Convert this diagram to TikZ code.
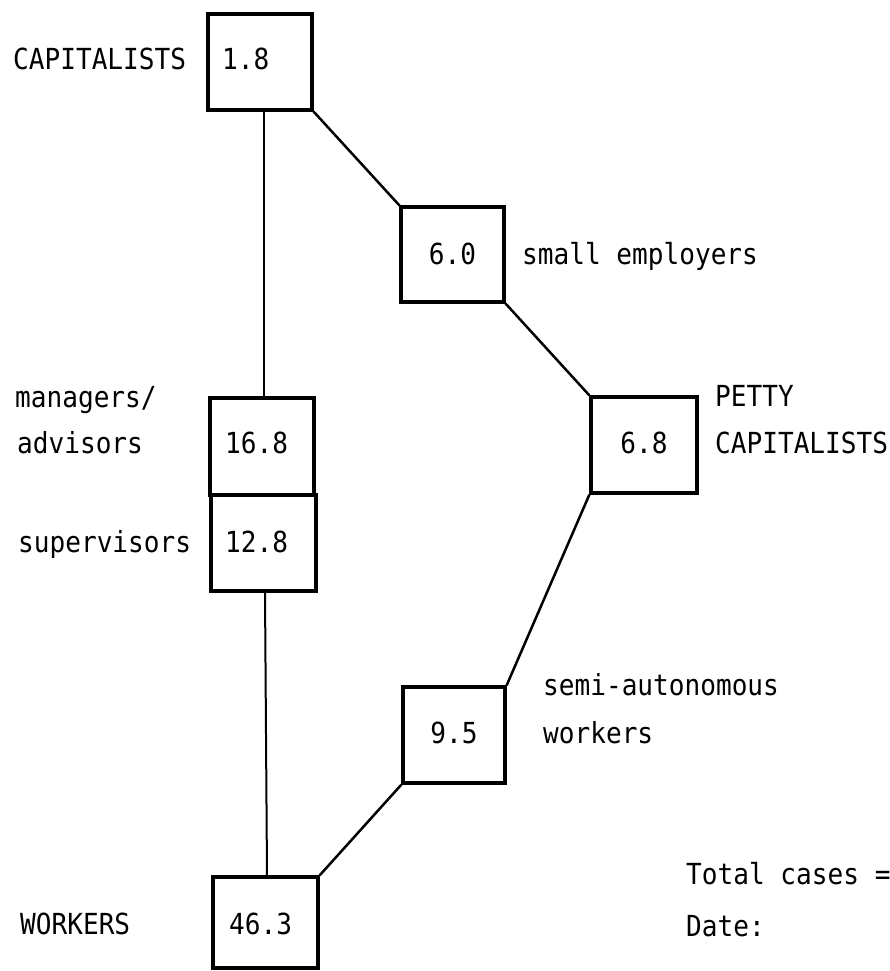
\documentclass[tikz,border=0pt]{standalone}
\usepackage{fontspec}
\newfontfamily\typewriter[FakeStretch=0.9]{DejaVu Sans Mono}
\begin{document}
\begin{tikzpicture}[x=1pt,y=-1pt,
  classbox/.style={draw, line width=3.2pt, inner sep=0pt},
  link/.style={line width=2.5pt},
  stem/.style={line width=2pt},
  txt/.style={font=\typewriter\fontsize{29}{32}\selectfont, inner sep=0pt, anchor=base west},
  num/.style={font=\typewriter\fontsize{29}{32}\selectfont, inner sep=0pt, anchor=base}]
\useasboundingbox (0,0) rectangle (890,971);

% class boxes
\node[classbox, minimum width=104pt, minimum height=96pt] (b1) at (260,62) {};
\node[classbox, minimum width=103pt, minimum height=95pt] (b2) at (452.5,254.5) {};
\node[classbox, minimum width=106pt, minimum height=96pt] (b3) at (644,445) {};
\node[classbox, minimum width=104pt, minimum height=97pt] (b4) at (262,446.5) {};
\node[classbox, minimum width=105pt, minimum height=96pt] (b5) at (263.5,543) {};
\node[classbox, minimum width=105pt, minimum height=91pt] (b6) at (265.5,922.5) {};
\node[classbox, minimum width=102pt, minimum height=96pt] (b7) at (454,735) {};

% connectors
\draw[stem] ([xshift=4pt]b1.south) -- ([xshift=2pt]b4.north);
\draw[stem] ([xshift=1.5pt]b5.south) -- ([xshift=1.5pt]b6.north);
\draw[link] (b1.south east) -- (b2.north west);
\draw[link] (b2.south east) -- (b3.north west);
\draw[link] (b3.south west) -- (b7.north east);
\draw[link] (b7.south west) -- (b6.north east);

% percentages
\node[txt] (n1) at (222,70) {1.8};
\node[num] (n2) at (452.5,264) {6.0};
\node[num] (n3) at (644,453) {6.8};
\node[txt] (n4) at (225,453) {16.8};
\node[txt] (n5) at (225,552) {12.8};
\node[num] (n7) at (454,743) {9.5};
\node[txt] (n6) at (229,934) {46.3};

% class labels
\node[txt] (l1) at (13,70) {CAPITALISTS};
\node[txt] (l2) at (522,264) {small employers};
\node[txt] (l3a) at (715,406) {PETTY};
\node[txt] (l3b) at (715,453) {CAPITALISTS};
\node[txt] (l4a) at (15,407) {managers/};
\node[txt] (l4b) at (17,453) {advisors};
\node[txt] (l5) at (18,552) {supervisors};
\node[txt] (l7a) at (543,695) {semi-autonomous};
\node[txt] (l7b) at (543,743) {workers};
\node[txt] (l6) at (20,934) {WORKERS};

% footnote
\node[txt] (t1) at (686,884) {Total cases =};
\node[txt] (t2) at (686,936) {Date:};
\end{tikzpicture}
\end{document}
